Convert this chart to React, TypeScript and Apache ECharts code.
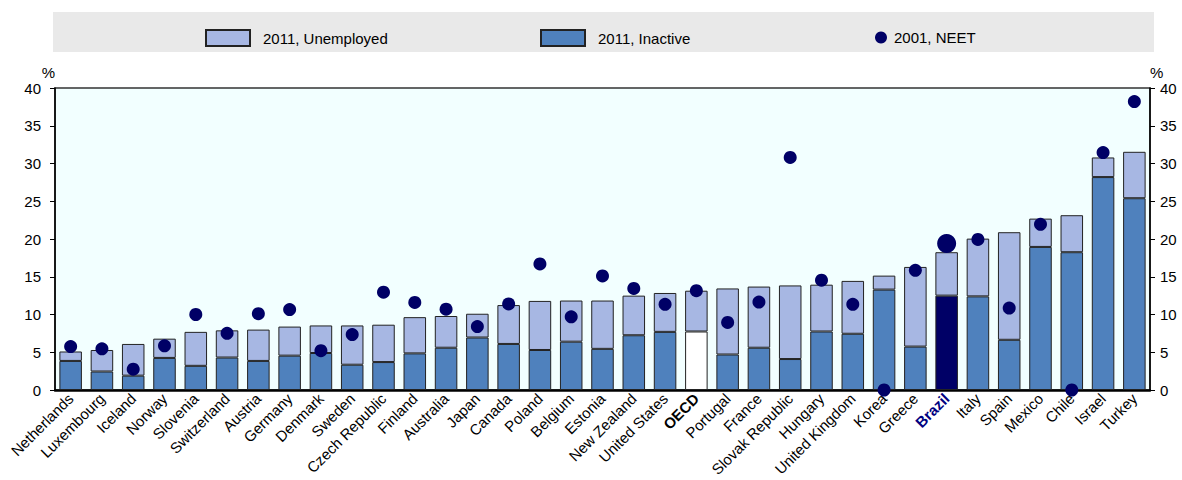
import React, { useEffect, useRef } from "react";
import * as echarts from "echarts";

const categories = [
  "Netherlands", "Luxembourg", "Iceland", "Norway", "Slovenia", "Switzerland", "Austria",
  "Germany", "Denmark", "Sweden", "Czech Republic", "Finland", "Australia", "Japan",
  "Canada", "Poland", "Belgium", "Estonia", "New Zealand", "United States", "OECD",
  "Portugal", "France", "Slovak Republic", "Hungary", "United Kingdom", "Korea", "Greece",
  "Brazil", "Italy", "Spain", "Mexico", "Chile", "Israel", "Turkey",
];

// 2011 inactive share
const inactive2011 = [
  3.85, 2.45, 1.9, 4.25, 3.2, 4.3, 3.85,
  4.55, 4.9, 3.35, 3.7, 4.85, 5.6, 6.95,
  6.1, 5.3, 6.4, 5.45, 7.25, 7.7, 7.75,
  4.7, 5.6, 4.1, 7.75, 7.45, 13.3, 5.75,
  12.5, 12.4, 6.65, 18.95, 18.25, 28.2, 25.4,
];

// 2011 total NEET (inactive + unemployed)
const total2011 = [
  5.1, 5.3, 6.1, 6.8, 7.7, 7.9, 8.0,
  8.4, 8.55, 8.55, 8.65, 9.65, 9.8, 10.1,
  11.25, 11.8, 11.85, 11.85, 12.5, 12.85, 13.15,
  13.45, 13.7, 13.85, 13.95, 14.45, 15.15, 16.3,
  18.25, 20.05, 20.9, 22.7, 23.15, 30.8, 31.55,
];

const unemployed2011 = total2011.map((t, i) => +(t - inactive2011[i]).toFixed(2));

// 2001 NEET
const neet2001 = [
  5.75, 5.45, 2.75, 5.85, 10.0, 7.5, 10.1,
  10.65, 5.2, 7.35, 12.95, 11.6, 10.7, 8.4,
  11.4, 16.7, 9.7, 15.1, 13.45, 11.35, 13.15,
  8.95, 11.65, 30.8, 14.55, 11.35, 0, 15.85,
  19.4, 19.95, 10.85, 21.95, 0, 31.45, 38.2,
];

const yTicks = { min: 0, max: 40, interval: 5 };

const FONT = "'Liberation Sans', Arial, sans-serif";

export default function App() {
  const ref = useRef<HTMLDivElement>(null);

  useEffect(() => {
    document.body.style.margin = "0";
    const chart = echarts.init(ref.current!, null, { renderer: "svg" });

    const inactiveData = inactive2011.map((v, i) => {
      if (categories[i] === "OECD") return { value: v, itemStyle: { color: "#ffffff" } };
      if (categories[i] === "Brazil") return { value: v, itemStyle: { color: "#000066" } };
      return v;
    });
    const neetData = neet2001.map((v, i) =>
      categories[i] === "Brazil" ? { value: v, symbolSize: 19 } : v
    );

    const yAxisCommon = {
      type: "value",
      min: yTicks.min,
      max: yTicks.max,
      interval: yTicks.interval,
      name: "%",
      nameLocation: "end",
      nameGap: 8,
      axisLine: { show: true, lineStyle: { color: "#000", width: 1.5 } },
      axisTick: { show: true, inside: false, length: 5, lineStyle: { color: "#000" } },
      splitLine: { show: false },
    };

    const legendText = { fontSize: 15, color: "#000", fontFamily: FONT };

    chart.setOption({
      animation: false,
      textStyle: { fontFamily: FONT },
      graphic: [
        {
          type: "rect",
          left: 53,
          top: 12,
          shape: { width: 1101, height: 40 },
          style: { fill: "#e9e9e9" },
          z: -1,
        },
      ],
      legend: [
        {
          data: [{ name: "2011, Unemployed", icon: "rect" }],
          left: 200,
          top: 24,
          itemWidth: 44,
          itemHeight: 16,
          textStyle: { ...legendText, padding: [0, 0, 0, 8] },
        },
        {
          data: [{ name: "2011, Inactive", icon: "rect" }],
          left: 535,
          top: 24,
          itemWidth: 44,
          itemHeight: 16,
          textStyle: { ...legendText, padding: [0, 0, 0, 8] },
        },
        {
          data: [{ name: "2001, NEET", icon: "circle" }],
          left: 870,
          top: 25,
          itemWidth: 12,
          itemHeight: 12,
          textStyle: { ...legendText, padding: [0, 0, 0, 2] },
        },
      ],
      grid: {
        left: 55,
        right: 32,
        top: 88,
        bottom: 90,
        show: true,
        backgroundColor: "#f2ffff",
        borderColor: "#333",
        borderWidth: 1.5,
      },
      xAxis: {
        type: "category",
        data: categories,
        axisLine: { show: true, lineStyle: { color: "#000", width: 2.5 } },
        axisTick: { show: false },
        axisLabel: {
          interval: 0,
          rotate: 45,
          fontSize: 15,
          color: "#000",
          fontFamily: FONT,
          margin: 6,
          formatter: (v: string) =>
            v === "OECD" ? "{b|OECD}" : v === "Brazil" ? "{br|Brazil}" : v,
          rich: {
            b: { fontWeight: "bold", fontSize: 15, color: "#000", fontFamily: FONT },
            br: { fontWeight: "bold", fontSize: 15, color: "#000080", fontFamily: FONT },
          },
        },
      },
      yAxis: [
        {
          ...yAxisCommon,
          position: "left",
          nameTextStyle: { fontSize: 15, color: "#000", align: "right", fontFamily: FONT },
          axisLabel: { fontSize: 15, color: "#000", margin: 14, fontFamily: FONT },
        },
        {
          ...yAxisCommon,
          position: "right",
          nameTextStyle: { fontSize: 15, color: "#000", align: "left", fontFamily: FONT },
          axisLabel: { fontSize: 15, color: "#000", margin: 10, fontFamily: FONT },
        },
      ],
      series: [
        {
          name: "2011, Inactive",
          type: "bar",
          stack: "neet",
          barWidth: "72%",
          data: inactiveData,
          itemStyle: { color: "#4f81bd", borderColor: "#222", borderWidth: 1 },
        },
        {
          name: "2011, Unemployed",
          type: "bar",
          stack: "neet",
          barWidth: "72%",
          data: unemployed2011,
          itemStyle: { color: "#a7b7e3", borderColor: "#222", borderWidth: 1 },
        },
        {
          name: "2001, NEET",
          type: "scatter",
          data: neetData,
          symbolSize: 13,
          clip: false,
          z: 5,
          itemStyle: { color: "#000066", opacity: 1 },
        },
      ],
    });

    return () => chart.dispose();
  }, []);

  return <div ref={ref} style={{ width: 1182, height: 480 }} />;
}
